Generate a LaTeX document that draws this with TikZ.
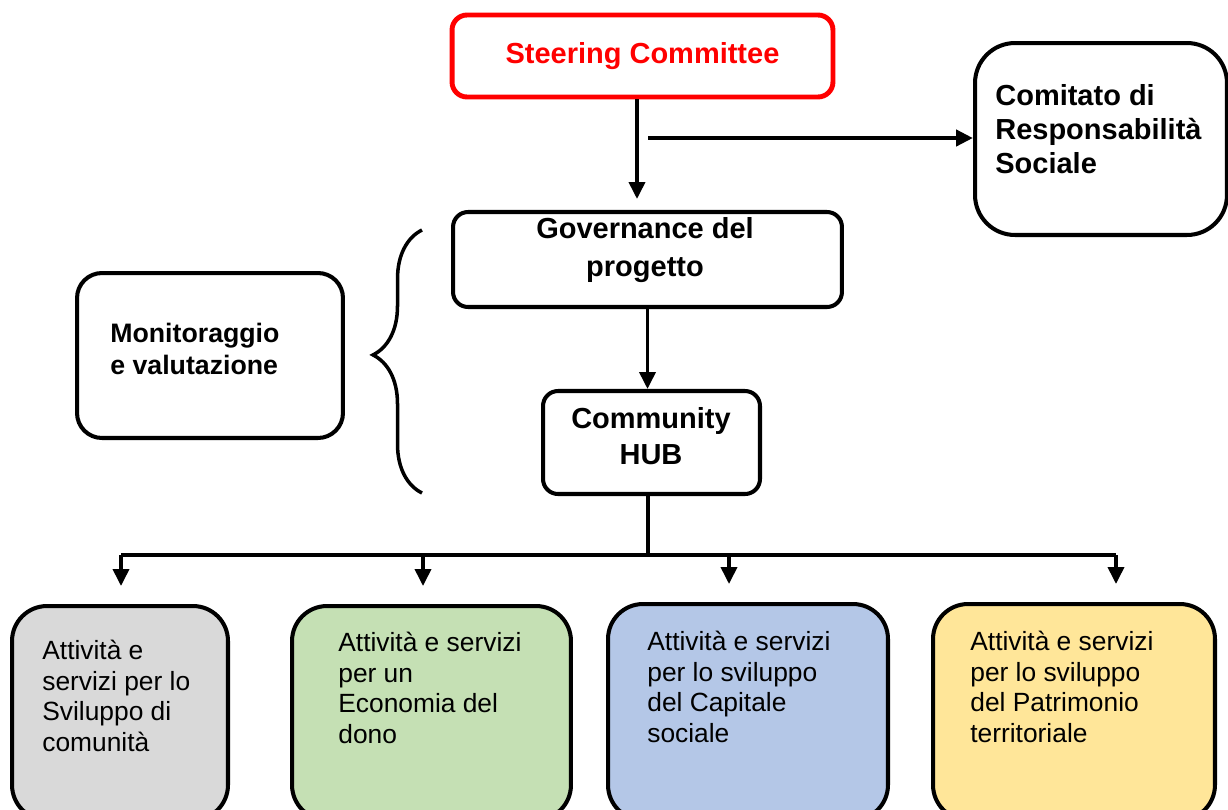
\documentclass[tikz,border=0pt]{standalone}
\usepackage{fontspec}
\setmainfont{Liberation Sans}
\usepackage{xcolor}
\usetikzlibrary{arrows.meta}
\usetikzlibrary{decorations.pathreplacing}
\definecolor{steerred}{HTML}{FF0000}
\definecolor{grayfill}{HTML}{D9D9D9}
\definecolor{greenfill}{HTML}{C5E0B4}
\definecolor{bluefill}{HTML}{B4C7E7}
\definecolor{yellowfill}{HTML}{FFE699}

\begin{document}
\begin{tikzpicture}[x=0.02cm, y=-0.02cm,
    box/.style={draw, line width=2.3pt, rounded corners=0.5cm},
    head/.style={font=\fontsize{16.5}{20.5}\selectfont\bfseries, align=center, inner sep=0pt},
    acttext/.style={font=\fontsize{15}{17.3}\selectfont, align=left, anchor=west, inner sep=0pt},
    line/.style={line width=2.1pt},
    arr/.style={line width=2.1pt, -{Triangle[length=0.34cm, width=0.32cm]}}]
  \useasboundingbox (0, 0) rectangle (1228, 809);
  % top
  \node[box, draw=steerred, line width=2.8pt, rounded corners=0.3cm, minimum width=7.62cm, minimum height=1.64cm,
        head, text=steerred] (steer) at (642.5, 56) {Steering Committee};
  \node[box, rounded corners=0.8cm, minimum width=5.04cm, minimum height=3.84cm] (comit) at (1101, 139) {};
  \node[head, align=left, anchor=west, font=\fontsize{16.5}{19.2}\selectfont\bfseries] (comittext) at (995, 129) {Comitato di\\Responsabilità\\Sociale};
  % middle
  \node[box, rounded corners=0.3cm, minimum width=7.78cm, minimum height=1.9cm] (gov) at (647.5, 259.5) {};
  \node[head, font=\fontsize{16.5}{21.3}\selectfont\bfseries] (govtext) at (645, 250) {Governance del\\progetto};
  \node[box, rounded corners=0.3cm, minimum width=4.34cm, minimum height=2.06cm] (hub) at (651.5, 442.5) {};
  \node[head] (hubtext) at (651, 436) {Community\\HUB};
  \node[box, minimum width=5.32cm, minimum height=3.3cm] (monit) at (210, 355.5) {};
  \node[head, align=left, anchor=west, font=\fontsize{15.2}{17.8}\selectfont\bfseries] (monittext) at (110, 349) {Monitoraggio\\e valutazione};
  \draw[line width=2pt, decorate, decoration={brace, amplitude=0.98cm, aspect=0.525}] (422, 493) -- (422, 230);
  % bottom
  \node[box, fill=grayfill, rounded corners=0.7cm, minimum width=4.32cm, minimum height=4.28cm] (act1) at (120, 713) {};
  \node[box, fill=greenfill, rounded corners=0.7cm, minimum width=5.58cm, minimum height=4.28cm] (act2) at (431.5, 713) {};
  \node[box, fill=bluefill, rounded corners=0.7cm, minimum width=5.6cm, minimum height=4.32cm] (act3) at (748, 712) {};
  \node[box, fill=yellowfill, rounded corners=0.7cm, minimum width=5.64cm, minimum height=4.32cm] (act4) at (1074, 712) {};
  \node[acttext] (act1text) at (42, 696) {Attività e\\servizi per lo\\Sviluppo di\\comunità};
  \node[acttext] (act2text) at (338, 688) {Attività e servizi\\per un\\Economia del\\dono};
  \node[acttext] (act3text) at (647, 687) {Attività e servizi\\per lo sviluppo\\del Capitale\\sociale};
  \node[acttext] (act4text) at (970, 687) {Attività e servizi\\per lo sviluppo\\del Patrimonio\\territoriale};
  % connectors
  \coordinate (split) at (648, 138);
  \coordinate (bus) at (648, 555);
  \draw[arr, shorten >=0.22cm] ([xshift=-0.11cm]steer.south) -- ([xshift=-0.11cm]steer.south |- gov.north);
  \draw[arr, line width=2.6pt] (split) -- (split -| comit.west);
  \draw[arr] (gov.south) -- (gov.south |- hub.north);
  \draw[line] (bus |- hub.south) -- (bus);
  \draw[line] ([xshift=0.02cm]act1.north |- bus) -- ([xshift=0.84cm]act4.north |- bus);
  \foreach \b/\dx in {act1/0.02, act2/-0.17, act3/-0.38, act4/0.84}
    \draw[arr, shorten >=0.36cm] ([xshift=\dx cm]\b.north |- bus) -- ([xshift=\dx cm]\b.north);
\end{tikzpicture}
\end{document}
